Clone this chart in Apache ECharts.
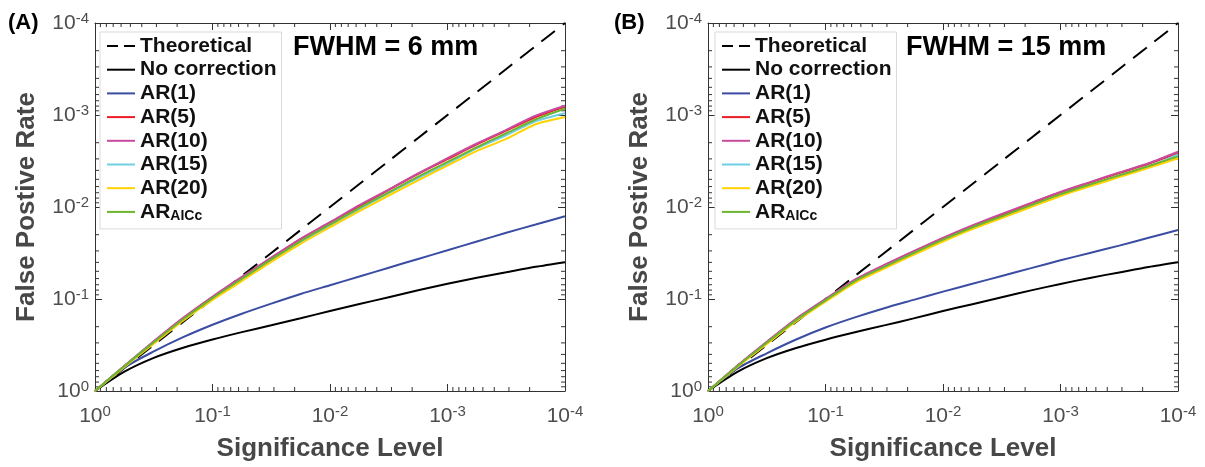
<!DOCTYPE html>
<html><head><meta charset="utf-8">
<script src="https://cdn.jsdelivr.net/npm/echarts@6/dist/echarts.min.js"></script>
<style>html,body{margin:0;padding:0;background:#fff}#c{width:1205px;height:467px}</style>
</head><body><div id="c"></div>
<script>
// ---- data ----
const alpha = [1, 0.5623, 0.3162, 0.1778, 0.1, 0.05623, 0.03162, 0.01778, 0.01, 0.005623, 0.003162, 0.001778, 0.001, 0.0005623, 0.0003162, 0.0001778, 0.0001];
const theoretical = [1, 0.5623, 0.3162, 0.1778, 0.1, 0.05623, 0.03162, 0.01778, 0.01, 0.005623, 0.003162, 0.001778, 0.001, 0.0005623, 0.0003162, 0.0001778, 0.0001];

// Panel A: FWHM = 6 mm
const noCorrA = [1, 0.617, 0.4365, 0.339, 0.2754, 0.2291, 0.1928, 0.1622, 0.1349, 0.1135, 0.0955, 0.0804, 0.0684, 0.0589, 0.0513, 0.0447, 0.0398];
const ar1A   = [1, 0.556, 0.3715, 0.26, 0.1905, 0.1445, 0.1122, 0.0881, 0.0708, 0.0569, 0.0457, 0.0367, 0.0295, 0.0237, 0.01905, 0.01549, 0.01259];
const ar5A   = [1, 0.537, 0.2917, 0.1622, 0.0955, 0.0582, 0.0359, 0.02239, 0.01479, 0.00977, 0.00653, 0.00437, 0.00302, 0.00209, 0.00148, 0.00105, 0.000813];
const ar10A  = [1, 0.531, 0.2884, 0.1603, 0.0944, 0.0575, 0.0355, 0.02213, 0.01462, 0.00955, 0.00646, 0.00432, 0.00295, 0.00204, 0.00145, 0.00102, 0.000794];
const ar15A  = [1, 0.543, 0.2985, 0.1679, 0.1, 0.0617, 0.038, 0.02399, 0.01585, 0.01059, 0.00708, 0.00484, 0.00339, 0.00229, 0.00166, 0.00117, 0.000955];
const ar20A  = [1, 0.5495, 0.3055, 0.1718, 0.1023, 0.0638, 0.0394, 0.0251, 0.0166, 0.01109, 0.0075, 0.00513, 0.00355, 0.00245, 0.00182, 0.00126, 0.00105];
const aicA   = [1, 0.537, 0.2951, 0.166, 0.0977, 0.0603, 0.03715, 0.02344, 0.01549, 0.01023, 0.00692, 0.00468, 0.00324, 0.00224, 0.00158, 0.00112, 0.000851];

// Panel B: FWHM = 15 mm
const noCorrB = [1, 0.62, 0.44, 0.341, 0.277, 0.23, 0.1935, 0.1625, 0.1352, 0.1138, 0.0958, 0.0806, 0.0686, 0.059, 0.0514, 0.0448, 0.0398];
const ar1B   = [1, 0.569, 0.389, 0.2754, 0.2042, 0.1585, 0.1259, 0.1023, 0.0832, 0.0684, 0.0562, 0.0462, 0.038, 0.0316, 0.0263, 0.0216, 0.0178];
const ar5B   = [1, 0.531, 0.2951, 0.166, 0.1012, 0.0624, 0.0432, 0.0306, 0.02188, 0.01603, 0.01216, 0.00912, 0.00692, 0.00543, 0.00427, 0.00339, 0.0026];
const ar10B  = [1, 0.531, 0.2917, 0.1641, 0.1, 0.0617, 0.0427, 0.0302, 0.02163, 0.01585, 0.01189, 0.00902, 0.00684, 0.00537, 0.00422, 0.00335, 0.00251];
const ar15B  = [1, 0.543, 0.302, 0.1718, 0.1047, 0.0653, 0.0452, 0.032, 0.02291, 0.01698, 0.01288, 0.00977, 0.00741, 0.00582, 0.00462, 0.00367, 0.00269];
const ar20B  = [1, 0.5495, 0.309, 0.1758, 0.1072, 0.0668, 0.0468, 0.0331, 0.02371, 0.01738, 0.01318, 0.01, 0.00759, 0.00596, 0.00473, 0.00376, 0.00295];
const aicB   = [1, 0.537, 0.2985, 0.1698, 0.1035, 0.0638, 0.0447, 0.0316, 0.02265, 0.0166, 0.01259, 0.00955, 0.00724, 0.00569, 0.00452, 0.00359, 0.00282];

const seriesNames = ['Theoretical', 'No correction', 'AR(1)', 'AR(5)', 'AR(10)', 'AR(15)', 'AR(20)', 'ARAICc'];
const panelLabels = ['(A)', '(B)'];
const panelTitles = ['FWHM = 6 mm', 'FWHM = 15 mm'];
const xTitle = 'Significance Level';
const yTitle = 'False Postive Rate';
const axisMin = 0.0001, axisMax = 1;
const minorTicks = [0.0002, 0.0003, 0.0004, 0.0005, 0.0006, 0.0007, 0.0008, 0.0009,
  0.002, 0.003, 0.004, 0.005, 0.006, 0.007, 0.008, 0.009,
  0.02, 0.03, 0.04, 0.05, 0.06, 0.07, 0.08, 0.09,
  0.2, 0.3, 0.4, 0.5, 0.6, 0.7, 0.8, 0.9];

// ---- styles ----
const FONT = '"Liberation Sans", Arial, Helvetica, sans-serif';
const colors = ['#000000', '#000000', '#3A4DA3', '#ED1C24', '#C94B9E', '#6FCFE3', '#FFD200', '#6BB52F'];
const panelData = [
  [theoretical, noCorrA, ar1A, ar5A, ar10A, ar15A, ar20A, aicA],
  [theoretical, noCorrB, ar1B, ar5B, ar10B, ar15B, ar20B, aicB]
];
const grids = [
  {left: 95, top: 23, width: 470, height: 368},
  {left: 708, top: 23, width: 470, height: 368}
];
const AXC = '#333333';
const LBC = '#4d4d4d';
const rich = {
  b: {fontSize: 21, fontFamily: FONT, color: LBC, lineHeight: 24},
  s: {fontSize: 15, fontFamily: FONT, color: LBC, lineHeight: 15, verticalAlign: 'top'}
};
function fmt(v) {
  const e = Math.round(Math.log10(v));
  return '{b|10}{s|' + e + '}';
}
function axis(dim, g, pos, showLabel) {
  return {
    type: 'log', logBase: 10, gridIndex: g, position: pos,
    min: axisMin, max: axisMax, inverse: true,
    axisLine: {show: true, onZero: false, lineStyle: {color: AXC, width: 1}},
    axisTick: {show: true, inside: true, length: 7, lineStyle: {color: AXC, width: 1}},
    axisLabel: {show: showLabel, margin: dim === 'x' ? 13 : 6, formatter: fmt, rich: rich},
    splitLine: {show: false},
    minorTick: {show: false}
  };
}
const xAxes = [], yAxes = [];
[0, 1].forEach(g => {
  xAxes.push(axis('x', g, 'bottom', true));
  xAxes.push(axis('x', g, 'top', false));
  yAxes.push(axis('y', g, 'left', true));
  yAxes.push(axis('y', g, 'right', false));
});

const series = [];
[0, 1].forEach(g => {
  series.push({
    type: 'custom', xAxisIndex: 2 * g, yAxisIndex: 2 * g, silent: true, clip: false, z: 1,
    data: minorTicks.map(v => [v, v]),
    renderItem: function (params, api) {
      const v = api.value(0);
      const p = api.coord([v, v]);
      const lo = api.coord([axisMax, axisMax]);
      const hi = api.coord([axisMin, axisMin]);
      const st = {stroke: AXC, lineWidth: 1};
      const L = 4;
      return {type: 'group', children: [
        {type: 'line', shape: {x1: p[0], y1: lo[1], x2: p[0], y2: lo[1] - L}, style: st},
        {type: 'line', shape: {x1: p[0], y1: hi[1], x2: p[0], y2: hi[1] + L}, style: st},
        {type: 'line', shape: {x1: lo[0], y1: p[1], x2: lo[0] + L, y2: p[1]}, style: st},
        {type: 'line', shape: {x1: hi[0], y1: p[1], x2: hi[0] - L, y2: p[1]}, style: st}
      ]};
    }
  });
  seriesNames.forEach((name, i) => {
    series.push({
      type: 'line', name: name, xAxisIndex: 2 * g, yAxisIndex: 2 * g,
      data: alpha.map((a, k) => [a, panelData[g][i][k]]),
      symbol: 'none', smooth: 0.25, z: 3 + i,
      lineStyle: {color: colors[i], width: 2, type: i === 0 ? [17, 10] : 'solid'},
      itemStyle: {color: colors[i]}
    });
  });
});

const legendData = seriesNames.map((n, i) => ({
  name: n,
  icon: i === 0 ? 'path://M0,0H11V2H0Z M17,0H28V2H17Z' : 'path://M0,0H28V2H0Z'
}));
const legends = [0, 1].map(g => ({
  orient: 'vertical', left: g === 0 ? 100 : 715, top: 32,
  data: legendData, selectedMode: false,
  itemWidth: 28, itemHeight: 2, itemGap: 1.7,
  padding: [3, 5, 6, 7],
  backgroundColor: '#fff', borderColor: '#d9d9d9', borderWidth: 1,
  textStyle: {
    fontFamily: FONT, fontSize: 21, fontWeight: 'bold', color: '#111', lineHeight: 22,
    rich: {
      m: {fontFamily: FONT, fontSize: 21, fontWeight: 'bold', color: '#111', lineHeight: 22},
      sub: {fontFamily: FONT, fontSize: 14, fontWeight: 'bold', color: '#111', lineHeight: 14, verticalAlign: 'bottom'}
    }
  },
  formatter: function (name) { return name === 'ARAICc' ? '{m|AR}{sub|AICc}' : name; }
}));

const graphic = [];
[0, 1].forEach(g => {
  const gr = grids[g];
  const cx = gr.left + gr.width / 2;
  const cy = gr.top + gr.height / 2;
  graphic.push({type: 'text', x: g === 0 ? 8 : 614, y: 23, style: {text: panelLabels[g], font: 'bold 22px ' + FONT, fill: '#000', textAlign: 'left', textVerticalAlign: 'middle'}});
  graphic.push({type: 'text', x: g === 0 ? 293 : 906, y: 48, z: 10, style: {text: panelTitles[g], font: 'bold 27px ' + FONT, fill: '#000', textAlign: 'left', textVerticalAlign: 'middle'}});
  graphic.push({type: 'text', x: cx, y: 449, style: {text: xTitle, font: 'bold 26px ' + FONT, fill: '#474747', textAlign: 'center', textVerticalAlign: 'middle'}});
  graphic.push({type: 'text', x: g === 0 ? 27 : 640, y: cy, rotation: Math.PI / 2, style: {text: yTitle, font: 'bold 26px ' + FONT, fill: '#474747', textAlign: 'center', textVerticalAlign: 'middle'}});
});

const chart = echarts.init(document.getElementById('c'), null, {renderer: 'canvas'});
chart.setOption({
  backgroundColor: '#fff',
  animation: false,
  grid: grids,
  xAxis: xAxes,
  yAxis: yAxes,
  legend: legends,
  series: series,
  graphic: graphic
});
</script></body></html>
